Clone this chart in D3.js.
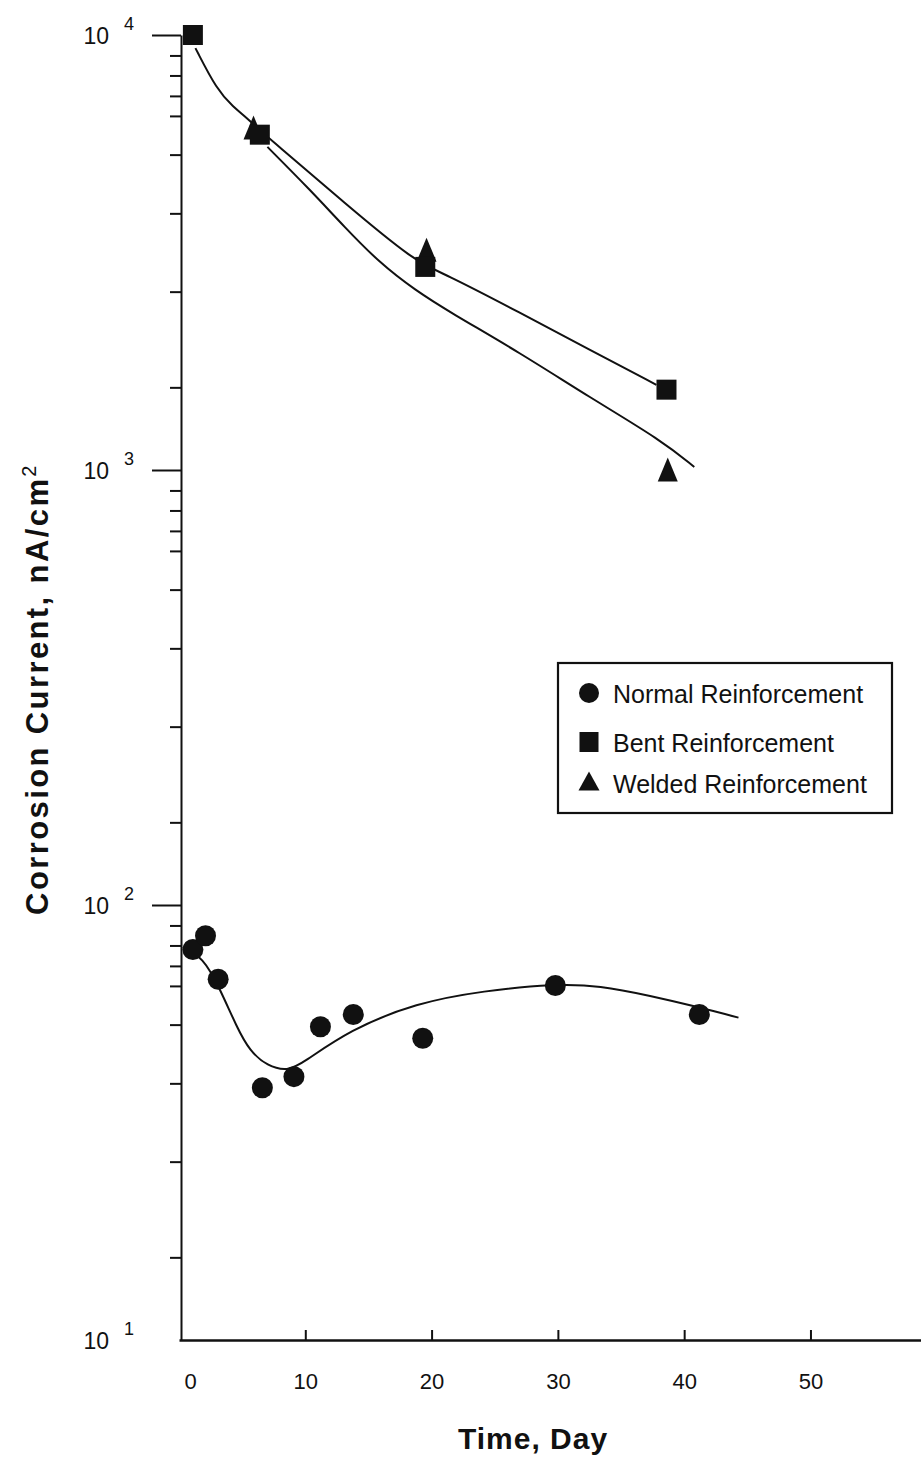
<!DOCTYPE html>
<html>
<head>
<meta charset="utf-8">
<script src="https://cdn.jsdelivr.net/npm/d3@7"></script>
<style>
  body { margin: 0; background: #fff; }
  svg { display: block; font-family: "Liberation Sans", Arial, Helvetica, sans-serif; }
</style>
</head>
<body>
<div id="chart"></div>
<script>
// measured points (day, nA/cm2)
const normalDays = [1.1, 2.1, 3.1, 6.6, 9.1, 11.2, 13.8, 19.3, 29.8, 41.2];
const normalValues = [79, 85, 67.5, 38, 40.3, 52.5, 56, 49.4, 65.3, 56];
const bentDays = [1.1, 6.4, 19.5, 38.6];
const bentValues = [10000, 5900, 2930, 1530];
const weldedDays = [5.9, 19.6, 38.7];
const weldedValues = [6050, 3170, 990];

// hand drawn fit curves
const normalFitDays = [0.3, 1.9, 3.2, 4.6, 5.6, 7.0, 8.6, 9.8, 13.5, 18.8, 24.1, 29.8, 33.3, 37.3, 41.3, 44.3];
const normalFitValues = [80, 75.8, 64.6, 52.2, 46.2, 42.6, 41.5, 43.3, 51.6, 59.6, 63.5, 65.9, 65.3, 61.9, 58.1, 55.1];
const bentFitDays = [1.3, 3.0, 4.3, 5.4, 6.2, 7.3, 13.1, 18.7, 20.9, 27.0, 32.5, 37.8];
const bentFitValues = [9330, 7480, 6830, 6440, 6110, 5740, 4110, 3010, 2840, 2300, 1890, 1570];
const weldedFitDays = [7.0, 10.4, 13.1, 15.9, 18.7, 21.5, 27.0, 32.5, 38.2, 40.8];
const weldedFitValues = [5530, 4400, 3620, 2990, 2590, 2300, 1860, 1470, 1170, 1016];

// ticks
const majorTicks = [10, 100, 1000, 10000];
const majorTickExponents = ['1', '2', '3', '4'];
const minorTickOffsets = [0.047, 0.093, 0.14, 0.186, 0.275, 0.41, 0.59, 0.81]; // fraction of a decade below each major, as drawn in the scan
const xTicks = [0, 10, 20, 30, 40, 50];
const legendLabels = ['Normal Reinforcement', 'Bent Reinforcement', 'Welded Reinforcement'];

const width = 921, height = 1463;
const ink = '#111';

const svg = d3.select('#chart').append('svg')
    .attr('width', width)
    .attr('height', height);

const x = d3.scaleLinear().domain([0, 58.8]).range([179, 921.6]);
const y = d3.scaleLog().domain([10, 10000]).range([1340, 35]);
const yAxisX = 181;

const minorTicks = majorTicks.slice(1).flatMap(m => minorTickOffsets.map(f => m * Math.pow(10, -f)));

// y axis: minor ticks + axis line
svg.append('g')
    .attr('transform', `translate(${yAxisX},0)`)
    .call(d3.axisLeft(y).tickValues(minorTicks).tickSize(11).tickSizeOuter(0).tickFormat(''))
    .call(g => g.select('.domain').attr('stroke', ink).attr('stroke-width', 2))
    .call(g => g.selectAll('.tick line').attr('stroke', ink).attr('stroke-width', 2));

// y axis: major ticks (none drawn at the corner)
svg.append('g')
    .attr('transform', `translate(${yAxisX},0)`)
    .call(d3.axisLeft(y).tickValues(majorTicks.slice(1)).tickSize(29).tickFormat(''))
    .call(g => g.select('.domain').remove())
    .call(g => g.selectAll('.tick line').attr('stroke', ink).attr('stroke-width', 2));

// y tick labels as 10^n
svg.append('g').selectAll('text')
    .data(majorTicks)
    .enter()
    .append('text')
    .attr('x', 109)
    .attr('y', d => y(d) + 9)
    .attr('text-anchor', 'end')
    .attr('fill', ink)
    .style('font-size', '23px')
    .text('10');
svg.append('g').selectAll('text')
    .data(majorTicks)
    .enter()
    .append('text')
    .attr('x', 124)
    .attr('y', d => y(d) - 5)
    .attr('fill', ink)
    .style('font-size', '18px')
    .text((d, i) => majorTickExponents[i]);

// x axis
svg.append('g')
    .attr('transform', `translate(0,${y(10)})`)
    .call(d3.axisBottom(x).tickValues(xTicks).tickSize(-10).tickSizeOuter(0).tickPadding(33).tickFormat(d3.format('d')))
    .call(g => g.select('.domain').attr('stroke', ink).attr('stroke-width', 2.5))
    .call(g => g.selectAll('.tick line').attr('stroke', ink).attr('stroke-width', 2))
    .call(g => g.selectAll('.tick').filter(d => d === 0).select('line').remove())
    .call(g => g.selectAll('.tick').filter(d => d === 0).select('text').attr('dx', 11))
    .call(g => g.selectAll('.tick text')
        .attr('fill', ink)
        .style('font-size', '22px')
        .style('font-family', '"Liberation Sans", Arial, sans-serif'));

// axis titles
svg.append('text')
    .attr('x', 533)
    .attr('y', 1449)
    .attr('text-anchor', 'middle')
    .attr('fill', ink)
    .style('font-size', '30px')
    .style('font-weight', 'bold')
    .style('letter-spacing', '1px')
    .text('Time, Day');

const yTitle = svg.append('text')
    .attr('transform', 'translate(48,689) rotate(-90)')
    .attr('text-anchor', 'middle')
    .attr('fill', ink)
    .style('font-size', '31px')
    .style('font-weight', 'bold')
    .style('letter-spacing', '2.4px');
yTitle.append('tspan').text('Corrosion Current, nA/cm');
yTitle.append('tspan').attr('dy', -12).style('font-size', '20px').style('font-weight', 'normal').text('2');

// fit curves
const zip = (a, b) => a.map((v, i) => [v, b[i]]);
const line = d3.line()
    .x(d => x(d[0]))
    .y(d => y(d[1]))
    .curve(d3.curveBasis);

[[normalFitDays, normalFitValues], [bentFitDays, bentFitValues], [weldedFitDays, weldedFitValues]]
    .forEach(([days, values]) => {
        svg.append('path')
            .datum(zip(days, values))
            .attr('d', line)
            .attr('fill', 'none')
            .attr('stroke', ink)
            .attr('stroke-width', 2);
    });

// markers
const trianglePath = (w, h) => `M0,${-h * 0.6}L${w / 2},${h * 0.4}L${-w / 2},${h * 0.4}Z`;

svg.append('g').selectAll('path')
    .data(zip(weldedDays, weldedValues))
    .enter()
    .append('path')
    .attr('d', trianglePath(20, 24))
    .attr('transform', d => `translate(${x(d[0])},${y(d[1])})`)
    .attr('fill', ink);

svg.append('g').selectAll('rect')
    .data(zip(bentDays, bentValues))
    .enter()
    .append('rect')
    .attr('x', d => x(d[0]) - 10)
    .attr('y', d => y(d[1]) - 10)
    .attr('width', 20)
    .attr('height', 20)
    .attr('fill', ink);

svg.append('g').selectAll('circle')
    .data(zip(normalDays, normalValues))
    .enter()
    .append('circle')
    .attr('cx', d => x(d[0]))
    .attr('cy', d => y(d[1]))
    .attr('r', 10.5)
    .attr('fill', ink);

// legend
const legend = svg.append('g').attr('transform', 'translate(558,663)');
legend.append('rect')
    .attr('width', 334)
    .attr('height', 150)
    .attr('fill', '#fff')
    .attr('stroke', ink)
    .attr('stroke-width', 2.2);

const legendItems = legend.selectAll('g.item')
    .data(legendLabels)
    .enter()
    .append('g')
    .attr('class', 'item')
    .attr('transform', (d, i) => `translate(31,${[30, 79, 120][i]})`);

legendItems.each(function (d, i) {
    const g = d3.select(this);
    if (i === 0) g.append('circle').attr('r', 10).attr('fill', ink);
    if (i === 1) g.append('rect').attr('x', -9.5).attr('y', -10).attr('width', 19).attr('height', 20).attr('fill', ink);
    if (i === 2) g.append('path').attr('d', trianglePath(21, 19)).attr('fill', ink);
});

legendItems.append('text')
    .attr('x', 24)
    .attr('y', 10)
    .attr('fill', ink)
    .style('font-size', '25px')
    .text(d => d);
</script>
</body>
</html>
